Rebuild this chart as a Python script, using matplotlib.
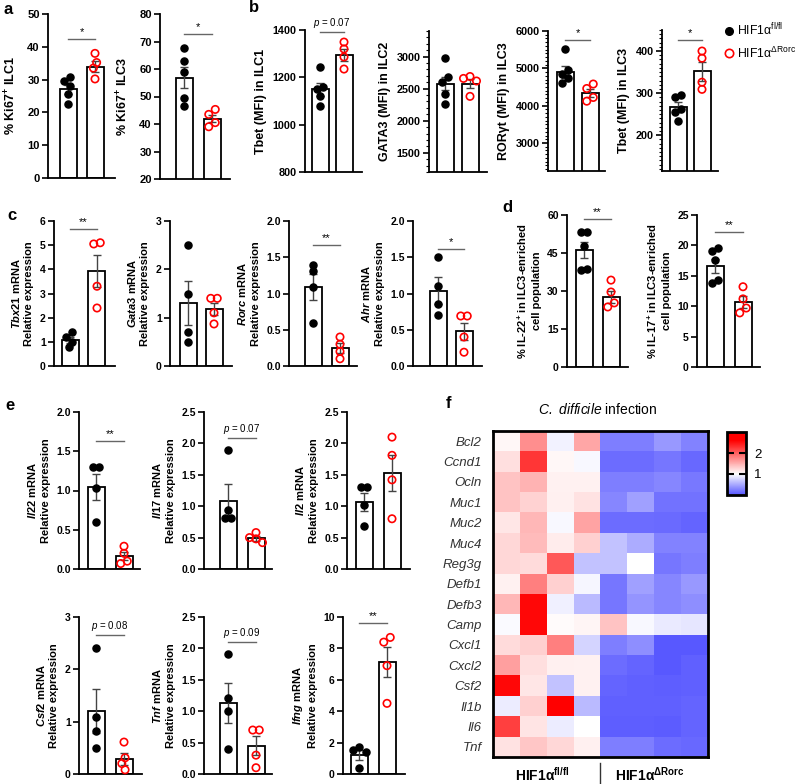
import matplotlib
matplotlib.use("Agg")
import matplotlib.pyplot as plt
from matplotlib.colors import LinearSegmentedColormap, Normalize
from matplotlib.lines import Line2D
from matplotlib.ticker import MultipleLocator, FormatStrFormatter

plt.rcParams["font.family"] = ["Liberation Sans", "DejaVu Sans"]
plt.rcParams["font.weight"] = "bold"
plt.rcParams["mathtext.fontset"] = "custom"
plt.rcParams["mathtext.rm"] = "Liberation Sans:weight=bold"
plt.rcParams["mathtext.bf"] = "Liberation Sans:weight=bold"
plt.rcParams["mathtext.it"] = "Liberation Sans:style=italic:weight=bold"
plt.rcParams["mathtext.sf"] = "Liberation Sans:style=italic:weight=normal"
plt.rcParams["mathtext.tt"] = "Liberation Sans:style=normal:weight=normal"

# ---- data -----------------------------------------------------------------
# a: Ki67
a_labels = ["% Ki67$^{+}$ ILC1", "% Ki67$^{+}$ ILC3"]
a_fl = [[30.8, 29.5, 28.2, 25.5, 22.6], [67.5, 63.0, 59.0, 49.5, 46.5]]
a_ko = [[38.0, 35.2, 33.5, 30.2], [45.3, 43.5, 40.5, 39.0]]
a_mean = [[27.0, 33.9], [56.8, 42.0]]
a_sem = [[1.4, 1.7], [3.8, 1.4]]
a_sig_text = ["*", "*"]
a_sig_y = [42.4, 72.7]

# b: MFI
b_labels = ["Tbet (MFI) in ILC1", "GATA3 (MFI) in ILC2",
            "RORγt (MFI) in ILC3", "Tbet (MFI) in ILC3"]
b_fl = [[1245, 1160, 1150, 1122, 1080], [2984, 2688, 2610, 2422, 2266],
        [5520, 4950, 4850, 4750, 4620], [295, 290, 262, 255, 233]]
b_ko = [[1349, 1320, 1286, 1235], [2690, 2660, 2620, 2380],
        [4580, 4460, 4220, 4120], [400, 383, 326, 309]]
b_mean = [[1150, 1295], [2578, 2580], [4900, 4340], [267, 352]]
b_sem = [[27, 25], [105, 70], [160, 110], [12, 22]]
b_sig_text = [r"$\mathsf{p}$ = 0.07", "", "*", "*"]
b_sig_y = [1391, None, 5760, 426]

# c: transcription factor mRNA
c_labels = [r"$\mathit{Tbx21}$ mRNA" + "\nRelative expression",
            r"$\mathit{Gata3}$ mRNA" + "\nRelative expression",
            r"$\mathit{Rorc}$ mRNA" + "\nRelative expression",
            r"$\mathit{Ahr}$ mRNA" + "\nRelative expression"]
c_fl = [[1.4, 1.2, 1.0, 0.78], [2.5, 1.49, 0.7, 0.5],
        [1.4, 1.31, 1.09, 0.6], [1.5, 1.1, 0.85, 0.7]]
c_ko = [[5.1, 5.05, 3.3, 2.4], [1.4, 1.4, 1.1, 0.87],
        [0.4, 0.3, 0.2, 0.1], [0.69, 0.69, 0.4, 0.19]]
c_mean = [[1.07, 3.93], [1.3, 1.18], [1.09, 0.25], [1.04, 0.48]]
c_sem = [[0.13, 0.67], [0.45, 0.13], [0.18, 0.07], [0.19, 0.12]]
c_sig_text = ["**", "", "**", "*"]
c_sig_y = [5.66, None, 1.67, 1.61]

# d: cytokine+ cells
d_labels = ["% IL-22$^{+}$ in ILC3-enriched\ncell population",
            "% IL-17$^{+}$ in ILC3-enriched\ncell population"]
d_fl = [[53.3, 53.3, 47.8, 38.7, 38.3], [19.6, 19.0, 17.6, 14.3, 13.8]]
d_ko = [[34.3, 29.6, 25.3, 23.7], [13.2, 11.2, 9.7, 8.9]]
d_mean = [[46.2, 27.7], [16.6, 10.7]]
d_sem = [[3.1, 2.4], [1.2, 1.0]]
d_sig_text = ["**", "**"]
d_sig_y = [58.4, 22.2]

# e: cytokine mRNA
e_labels = [r"$\mathit{Il22}$ mRNA" + "\nRelative expression",
            r"$\mathit{Il17}$ mRNA" + "\nRelative expression",
            r"$\mathit{Il2}$ mRNA" + "\nRelative expression",
            r"$\mathit{Csf2}$ mRNA" + "\nRelative expression",
            r"$\mathit{Tnf}$ mRNA" + "\nRelative expression",
            r"$\mathit{Ifng}$ mRNA" + "\nRelative expression"]
e_fl = [[1.30, 1.30, 1.03, 0.6], [1.9, 0.94, 0.81, 0.81], [1.31, 1.31, 1.02, 0.68],
        [2.4, 1.09, 0.82, 0.5], [1.91, 1.21, 1.0, 0.4], [1.7, 1.55, 1.4, 0.38]]
e_ko = [[0.29, 0.2, 0.1, 0.07], [0.58, 0.5, 0.48, 0.42], [2.1, 1.81, 1.42, 0.8],
        [0.61, 0.31, 0.2, 0.08], [0.7, 0.7, 0.3, 0.1], [8.7, 8.4, 6.9, 4.5]]
e_mean = [[1.045, 0.165], [1.08, 0.49], [1.07, 1.53], [1.2, 0.29], [1.13, 0.45], [1.2, 7.13]]
e_sem = [[0.17, 0.05], [0.27, 0.04], [0.14, 0.28], [0.42, 0.12], [0.32, 0.15], [0.3, 0.95]]
e_sig_text = ["**", r"$\mathsf{p}$ = 0.07", "", r"$\mathsf{p}$ = 0.08", r"$\mathsf{p}$ = 0.09", "**"]
e_sig_y = [1.63, 2.09, None, 2.66, 2.1, 9.6]

# f: heatmap
genes = ["Bcl2", "Ccnd1", "Ocln", "Muc1", "Muc2", "Muc4", "Reg3g", "Defb1",
         "Defb3", "Camp", "Cxcl1", "Cxcl2", "Csf2", "Il1b", "Il6", "Tnf"]
heat = [
    [1.05, 1.70, 0.93, 1.55, 0.25, 0.25, 0.40, 0.28],
    [1.20, 2.25, 1.05, 0.97, 0.15, 0.15, 0.20, 0.12],
    [1.38, 1.47, 1.08, 1.08, 0.25, 0.25, 0.30, 0.22],
    [1.38, 1.28, 1.10, 1.18, 0.30, 0.45, 0.18, 0.18],
    [1.15, 1.45, 0.97, 1.58, 0.15, 0.15, 0.13, 0.10],
    [1.25, 1.42, 1.12, 1.30, 0.65, 0.52, 0.27, 0.27],
    [1.25, 1.22, 2.05, 0.65, 0.65, 1.00, 0.20, 0.25],
    [1.08, 1.80, 1.30, 0.96, 0.20, 0.45, 0.30, 0.40],
    [1.45, 2.55, 0.92, 0.60, 0.20, 0.38, 0.30, 0.35],
    [0.98, 2.55, 1.02, 1.06, 1.38, 0.97, 0.88, 0.86],
    [1.22, 1.30, 1.80, 0.75, 0.25, 0.35, 0.03, 0.03],
    [1.60, 1.20, 1.10, 1.08, 0.15, 0.10, 0.03, 0.08],
    [2.55, 1.15, 0.65, 1.08, 0.10, 0.08, 0.06, 0.08],
    [0.90, 1.30, 2.80, 0.60, 0.08, 0.08, 0.08, 0.10],
    [2.20, 1.17, 0.90, 1.00, 0.07, 0.07, 0.05, 0.10],
    [1.18, 1.35, 1.25, 1.10, 0.25, 0.25, 0.15, 0.12],
]

W, H = 796, 784
RED = "#ff0000"
fig = plt.figure(figsize=(W / 100, H / 100), dpi=100)


def px_axes(left, top, right, bottom):
    return fig.add_axes([left / W, 1 - bottom / H, (right - left) / W, (bottom - top) / H])


def swarm(vals, ppu, spx, dot=6.5):
    """simple beeswarm: x offsets (data units) so dots don't overlap"""
    xs = [0.0] * len(vals)
    placed = []
    cands = [0, -0.5, 0.5, -1, 1, -1.5, 1.5]
    for i in sorted(range(len(vals)), key=lambda k: -vals[k]):
        y = vals[i] * ppu
        x = 0.0
        for c in cands:
            x = c * dot
            if all((x - qx) ** 2 + (y - qy) ** 2 >= 0.9 * dot ** 2 for qx, qy in placed):
                break
        placed.append((x, y))
        xs[i] = x
    # centre each chained cluster
    order = sorted(range(len(vals)), key=lambda k: vals[k])
    groups, cur = [], [order[0]]
    for a, b in zip(order, order[1:]):
        if (vals[b] - vals[a]) * ppu < dot:
            cur.append(b)
        else:
            groups.append(cur); cur = [b]
    groups.append(cur)
    for g in groups:
        if len(g) > 1:
            m = sum(xs[k] for k in g) / len(g)
            for k in g:
                xs[k] -= m
    return [x / spx for x in xs]


def bar_panel(spec, fl, ko, mean, sem, ylim, major, minor, ylabel, sig_text, sig_y,
              tick_fs=7.5, label_fs=8, labelpad=4, fmt="%d"):
    left, c1, c2, right, top, bottom = spec
    s = c2 - c1
    ax = px_axes(left, top, right, bottom)
    ax.set_xlim((left - c1) / s, (right - c1) / s)
    ax.set_ylim(*ylim)
    ppu = (bottom - top) / (ylim[1] - ylim[0])
    ax.bar([0, 1], mean, width=17 / s, color="white", edgecolor="black", lw=1.3, zorder=2)
    ax.errorbar([0, 1], mean, yerr=sem, fmt="none", ecolor="#444444", elinewidth=1,
                capsize=3, capthick=1, zorder=3)
    fl_x = swarm([v - ylim[0] for v in fl], ppu, s)
    ko_x = swarm([v - ylim[0] for v in ko], ppu, s)
    ax.scatter([0 + x for x in fl_x], fl, s=26, c="black", zorder=4, clip_on=False)
    ax.scatter([1 + x for x in ko_x], ko, s=28, facecolors="none", edgecolors=RED,
               linewidths=1.2, zorder=4, clip_on=False)
    if sig_y is not None:
        ax.plot([0, 1], [sig_y, sig_y], color="#666666", lw=1, clip_on=False)
        ax.annotate(sig_text, (0.5, sig_y), xytext=(0, 1.5), textcoords="offset points",
                    ha="center", va="bottom", fontsize=7 if "p" in sig_text else 8,
                    fontweight="normal", annotation_clip=False)
    for side in ("top", "right"):
        ax.spines[side].set_visible(False)
    ax.spines["left"].set_linewidth(1.3)
    ax.spines["bottom"].set_linewidth(1.3)
    ax.set_xticks([])
    ax.yaxis.set_major_locator(MultipleLocator(major))
    ax.yaxis.set_major_formatter(FormatStrFormatter(fmt))
    if minor:
        ax.yaxis.set_minor_locator(MultipleLocator(minor))
        ax.tick_params(axis="y", which="minor", length=2.5, width=0.8)
    ax.tick_params(axis="y", which="major", length=4, width=1.2, labelsize=tick_fs, pad=2)
    ax.set_ylabel(ylabel, fontsize=label_fs, fontweight="bold", labelpad=labelpad,
                  linespacing=1.3)
    return ax


# ---- a ----------------------------------------------------------------
a_spec = [(48, 68, 95, 115, 14, 178), (160, 184, 212, 230, 14, 179)]
a_ax = [((0, 50), 10), ((20, 80), 10)]
for i in range(2):
    bar_panel(a_spec[i], a_fl[i], a_ko[i], a_mean[i], a_sem[i], a_ax[i][0], a_ax[i][1], None,
              a_labels[i], a_sig_text[i], a_sig_y[i], tick_fs=8, label_fs=9, labelpad=6)

# ---- b ----------------------------------------------------------------
b_spec = [(305, 320, 344, 362, 30, 172), (429, 445, 470, 487, 31, 172),
          (548, 565, 590, 605, 31, 171), (662, 678, 702, 718, 30, 171)]
b_ax = [((800, 1400), 200, None), ((1200, 3400), 500, 100),
        ((2250, 6000), 1000, 100), ((115, 450), 100, 10)]
for i in range(4):
    bar_panel(b_spec[i], b_fl[i], b_ko[i], b_mean[i], b_sem[i], b_ax[i][0], b_ax[i][1],
              b_ax[i][2], b_labels[i], b_sig_text[i], b_sig_y[i], tick_fs=7.8, label_fs=9,
              labelpad=4)

# ---- c ----------------------------------------------------------------
c_spec = [(54, 70, 97, 115, 221, 366), (170, 188, 214, 232, 221, 366),
          (289, 313, 340, 357, 221, 366), (413, 438, 464, 482, 221, 366)]
c_ax = [((0, 6), 1, "%d"), ((0, 3), 1, "%d"), ((0, 2), 0.5, "%.1f"), ((0, 2), 0.5, "%.1f")]
for i in range(4):
    bar_panel(c_spec[i], c_fl[i], c_ko[i], c_mean[i], c_sem[i], c_ax[i][0], c_ax[i][1], None,
              c_labels[i], c_sig_text[i], c_sig_y[i], tick_fs=7.5, label_fs=8, labelpad=4,
              fmt=c_ax[i][2])

# ---- d ----------------------------------------------------------------
d_spec = [(567, 584, 611, 628, 215, 367), (697, 715, 743, 760, 215, 367)]
d_ax = [((0, 60), 15), ((0, 25), 5)]
for i in range(2):
    bar_panel(d_spec[i], d_fl[i], d_ko[i], d_mean[i], d_sem[i], d_ax[i][0], d_ax[i][1], None,
              d_labels[i], d_sig_text[i], d_sig_y[i], tick_fs=7.5, label_fs=8, labelpad=4)

# ---- e ----------------------------------------------------------------
e_spec = [(79, 96, 124, 140, 412, 569), (204, 228, 256, 272, 412, 569),
          (347, 364, 392, 410, 412, 569), (79, 96, 124, 142, 617, 774),
          (204, 228, 256, 272, 617, 774), (343, 359, 387, 405, 617, 774)]
e_ax = [((0, 2), 0.5, "%.1f"), ((0, 2.5), 0.5, "%.1f"), ((0, 2.5), 0.5, "%.1f"),
        ((0, 3), 1, "%d"), ((0, 2.5), 0.5, "%.1f"), ((0, 10), 2, "%d")]
for i in range(6):
    bar_panel(e_spec[i], e_fl[i], e_ko[i], e_mean[i], e_sem[i], e_ax[i][0], e_ax[i][1], None,
              e_labels[i], e_sig_text[i], e_sig_y[i], tick_fs=7.5, label_fs=8, labelpad=4,
              fmt=e_ax[i][2])

# ---- f: heatmap -------------------------------------------------------
cmap = LinearSegmentedColormap.from_list(
    "bwr_hif", [(0, (0.33, 0.33, 1.0)), (1 / 3, (1, 1, 1)), (2.6 / 3, (1, 0, 0)), (1, (1, 0, 0))])
norm = Normalize(vmin=0, vmax=3)
hx = px_axes(493, 431, 708, 757)
im = hx.imshow(heat, cmap=cmap, norm=norm, aspect="auto", interpolation="nearest")
hx.set_xticks([])
hx.set_yticks(range(len(genes)))
hx.set_yticklabels(genes, fontstyle="italic", fontweight="normal", fontsize=9.5, color="#333333")
hx.tick_params(axis="y", length=0, pad=8)
for sp in hx.spines.values():
    sp.set_linewidth(2)

cax = px_axes(727, 432, 746, 495)
cb = fig.colorbar(im, cax=cax, ticks=[1, 2])
cb.outline.set_linewidth(2)
cb.ax.tick_params(direction="in", left=True, right=True, length=5, width=1.5,
                  labelsize=9.5, pad=6)
for t in cb.ax.get_yticklabels():
    t.set_fontweight("normal")

fig.text(598 / W, 1 - 410 / H, r"$\mathsf{C.\ difficile}$ infection", ha="center",
         va="center", fontsize=10, fontweight="normal")
fig.text(542 / W, 1 - 775 / H, r"HIF1α$^{\mathrm{fl/fl}}$", ha="center", va="center",
         fontsize=10, fontweight="bold")
fig.text(650 / W, 1 - 775 / H, r"HIF1α$^{\mathrm{ΔRorc}}$", ha="center", va="center",
         fontsize=10, fontweight="bold")
fig.add_artist(Line2D([600 / W, 600 / W], [1 - 763 / H, 0.0], color="#333333", lw=1))

# ---- legend -----------------------------------------------------------
handles = [Line2D([], [], ls="none", marker="o", ms=5.5, color="black"),
           Line2D([], [], ls="none", marker="o", ms=6, mfc="none", mec=RED, mew=1.2)]
fig.legend(handles, [r"HIF1α$^{\mathtt{fl/fl}}$", r"HIF1α$^{\mathtt{ΔRorc}}$"],
           loc="upper left", bbox_to_anchor=(723 / W, 1 - 22 / H), frameon=False,
           prop={"size": 8.8, "weight": "normal"}, handletextpad=0.15, handlelength=1.0,
           labelspacing=0.55, borderaxespad=0, borderpad=0)

# ---- panel letters ----------------------------------------------------
for letter, x, y in [("a", 4, 10), ("b", 249, 8), ("c", 7, 216), ("d", 502, 208),
                     ("e", 5, 405), ("f", 446, 404)]:
    fig.text(x / W, 1 - y / H, letter, fontsize=12, fontweight="bold", ha="left", va="center")

fig.savefig("out.png", dpi=100)
